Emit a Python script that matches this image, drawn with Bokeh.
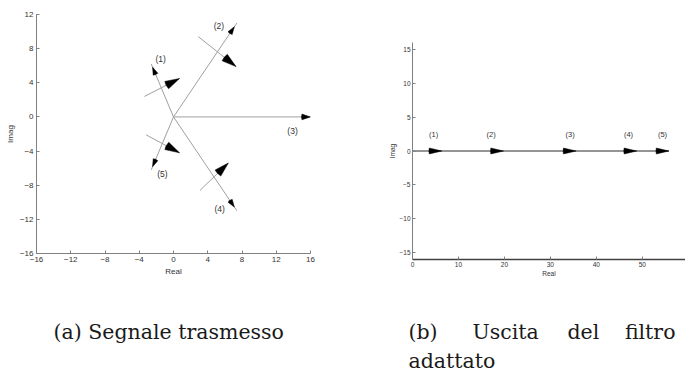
import numpy as np
from bokeh.plotting import figure
from bokeh.models import Range1d, FixedTicker, Label
from bokeh.embed import file_html
from bokeh.resources import INLINE
from bokeh.core.properties import value

# ---------------- data: (a) transmitted signal ----------------
tx_names = ["(1)", "(2)", "(3)", "(4)", "(5)"]
tx_real = [-2.6, 7.4, 16.0, 7.4, -2.6]
tx_imag = [6.2, 11.0, 0.0, -11.0, -6.2]
tx_label_x = [-1.5, 5.3, 13.9, 5.4, -1.3]
tx_label_y = [6.8, 10.6, -1.6, -10.8, -6.7]
# crossing (perpendicular) arrows for symbols 1, 2, 4, 5
perp_x0 = [-3.4, 2.9, 3.1, -3.2]
perp_y0 = [2.4, 9.4, -8.6, -2.1]
perp_x1 = [0.7, 7.3, 6.4, 0.7]
perp_y1 = [4.5, 5.9, -5.4, -4.2]
x_ticks_a = [-16, -12, -8, -4, 0, 4, 8, 12, 16]
y_ticks_a = [-16, -12, -8, -4, 0, 4, 8, 12]

# ---------------- data: (b) matched filter output ----------------
mf_names = ["(1)", "(2)", "(3)", "(4)", "(5)"]
mf_real = [6.4, 19.8, 35.6, 48.8, 55.8]
mf_label_x = [4.6, 17.1, 34.3, 47.0, 54.4]
mf_label_y = [2.5, 2.5, 2.5, 2.5, 2.5]
x_ticks_b = [0, 10, 20, 30, 40, 50]
y_ticks_b = [-15, -10, -5, 0, 5, 10, 15]

caption_a = "(a) Segnale trasmesso"
caption_b_words = ["(b)", "Uscita", "del", "filtro"]
caption_b_line2 = "adattato"

TICK_FONT = "Liberation Sans"
CAP_FONT = "DejaVu Serif"
LINE_GRAY = "#a0a0a0"


def style(p, fs, lab_stand, ax_stand):
    p.outline_line_color = None
    p.xgrid.visible = False
    p.ygrid.visible = False
    for ax in (p.xaxis[0], p.yaxis[0]):
        ax.axis_line_color = "#808080"
        ax.major_tick_line_color = "#808080"
        ax.major_tick_in = 3
        ax.major_tick_out = 0
        ax.minor_tick_line_color = None
        ax.major_label_text_font = TICK_FONT
        ax.major_label_text_font_size = fs
        ax.major_label_text_color = "#333333"
        ax.major_label_standoff = lab_stand
        ax.axis_label_text_font = TICK_FONT
        ax.axis_label_text_font_size = fs
        ax.axis_label_text_font_style = "normal"
        ax.axis_label_text_color = "#333333"
        ax.axis_label_standoff = ax_stand


# ---------------- figure (a) ----------------
pa = figure(width=380, height=290, output_backend="svg", toolbar_location=None, title=None,
            x_range=Range1d(-16, 16), y_range=Range1d(-16, 12),
            min_border_left=36, min_border_right=70, min_border_top=14, min_border_bottom=37,
            x_axis_label="Real", y_axis_label="Imag",
            styles={"position": "absolute", "left": "0px", "top": "0px"})
style(pa, "8px", 3, 2)
pa.xaxis[0].ticker = FixedTicker(ticks=x_ticks_a)
pa.yaxis[0].ticker = FixedTicker(ticks=y_ticks_a)

txr = np.array(tx_real)
txi = np.array(tx_imag)
zeros = np.zeros(len(txr))
pa.segment(x0=zeros, y0=zeros, x1=txr, y1=txi, line_color=LINE_GRAY, line_width=1)
pa.segment(x0=perp_x0, y0=perp_y0, x1=perp_x1, y1=perp_y1, line_color=LINE_GRAY, line_width=1)

head_frac = np.array([0.94, 0.96, 1.0, 0.96, 0.94])
ang_main = np.arctan2(txi, txr) + np.pi
pa.wedge(x=txr * head_frac, y=txi * head_frac, radius=[8, 8, 9, 8, 8], radius_units="screen",
         start_angle=ang_main - 0.32, end_angle=ang_main + 0.32,
         fill_color="black", line_color="black", line_width=0.5)

px0, py0, px1, py1 = map(np.array, (perp_x0, perp_y0, perp_x1, perp_y1))
ang_perp = np.arctan2(py1 - py0, px1 - px0) + np.pi
pa.wedge(x=px1, y=py1, radius=15, radius_units="screen",
         start_angle=ang_perp - 0.28, end_angle=ang_perp + 0.28,
         fill_color="black", line_color="black", line_width=0.5)

pa.text(x=tx_label_x, y=tx_label_y, text=tx_names, text_font=value(TICK_FONT),
        text_font_size="8.5px", text_color="#333333", text_align="center", text_baseline="middle")

# ---------------- figure (b) ----------------
pb = figure(width=305, height=290, output_backend="svg", toolbar_location=None, title=None,
            x_range=Range1d(0, 59.4), y_range=Range1d(-16, 16),
            min_border_left=32, min_border_right=0, min_border_top=42, min_border_bottom=31,
            x_axis_label="Real", y_axis_label="Imag",
            styles={"position": "absolute", "left": "380px", "top": "0px"})
style(pb, "6.5px", 2, 0)
pb.xaxis[0].ticker = FixedTicker(ticks=x_ticks_b)
pb.yaxis[0].ticker = FixedTicker(ticks=y_ticks_b)
pb.yaxis[0].major_label_overrides = {t: str(t).replace("-", "\u2212") for t in y_ticks_b}
pb.xaxis[0].axis_line_color = "#404040"
pb.xaxis[0].axis_line_width = 1.3

mfr = np.array(mf_real)
pb.segment(x0=[0], y0=[0], x1=[mfr.max()], y1=[0], line_color="#707070", line_width=1.5)
pb.wedge(x=mfr, y=np.zeros(len(mfr)), radius=13, radius_units="screen",
         start_angle=np.pi - 0.23, end_angle=np.pi + 0.23,
         fill_color="black", line_color="black", line_width=0.5)
pb.text(x=mf_label_x, y=mf_label_y, text=mf_names, text_font=value(TICK_FONT),
        text_font_size="7.5px", text_color="#333333", text_align="center", text_baseline="middle")

# ---------------- captions (sub-figure labels) ----------------
pc = figure(width=685, height=84, output_backend="svg", toolbar_location=None, title=None,
            x_axis_type=None, y_axis_type=None, x_range=Range1d(0, 685), y_range=Range1d(0, 84),
            min_border=0, styles={"position": "absolute", "left": "0px", "top": "290px"})
pc.outline_line_color = None
pc.xgrid.visible = False
pc.ygrid.visible = False


def cap(x, y, text, align="left"):
    pc.add_layout(Label(x=x, y=y, x_units="screen", y_units="screen", text=text,
                        text_font=CAP_FONT, text_font_size="20.5px", text_color="#1a1a1a",
                        text_align=align, text_baseline="alphabetic"))


cap(53, 43, caption_a)
for wx, w, al in zip([408, 472, 567, 675], caption_b_words, ["left", "left", "left", "right"]):
    cap(wx, 43, w, al)
cap(408, 14, caption_b_line2)

open("out.html", "w").write(file_html([pa, pb, pc], INLINE))
